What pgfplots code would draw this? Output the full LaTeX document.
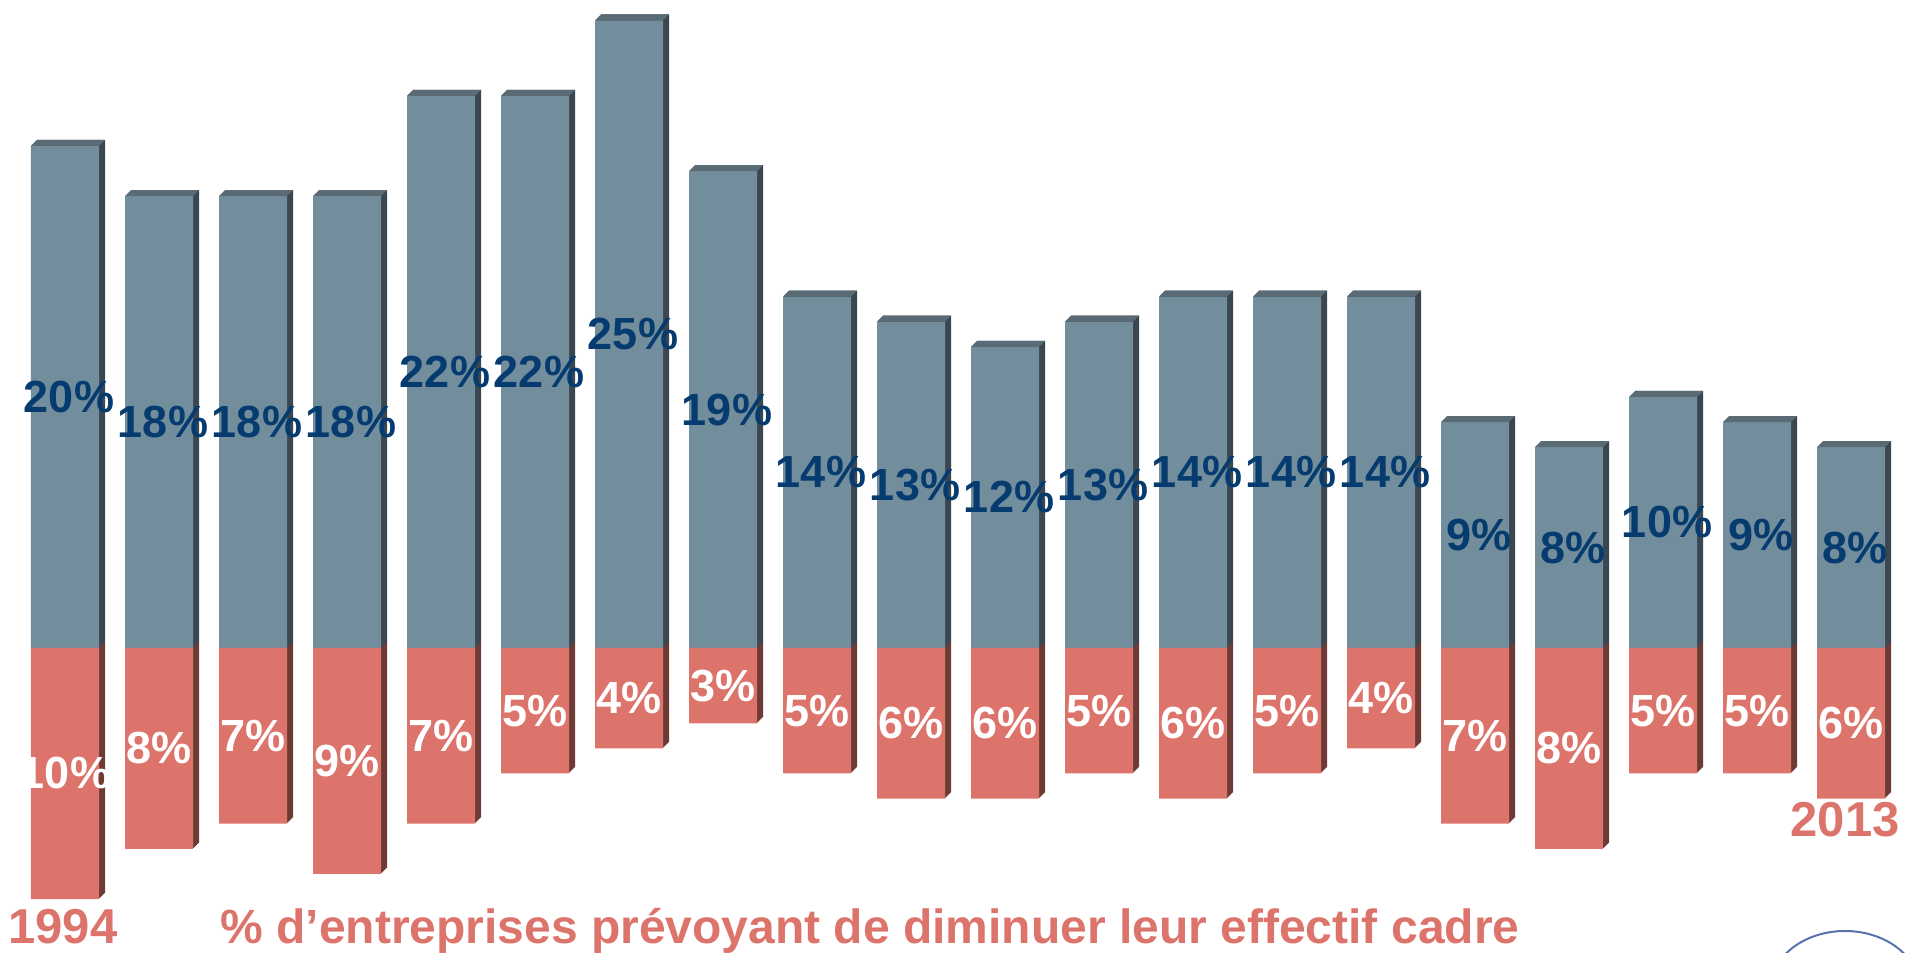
\documentclass[border=0pt]{standalone}
\usepackage{pgfplots}
\usepackage{pgfplotstable}
\pgfplotsset{compat=1.18}
\usepackage{fontspec}
\setmainfont{Liberation Sans}

\definecolor{greyfront}{HTML}{728D9B}
\definecolor{greytop}{HTML}{5B6B76}
\definecolor{greyside}{HTML}{3A4650}
\definecolor{redfront}{HTML}{DC746B}
\definecolor{redside}{HTML}{6E3A36}
\definecolor{labblue}{HTML}{053B6F}
\definecolor{salmon}{HTML}{DC746B}

% top face of a grey bar, drawn at the bar's top centre
\pgfdeclareplotmark{topface}{%
  \pgfpathmoveto{\pgfpoint{-17pt}{0pt}}%
  \pgfpathlineto{\pgfpoint{-14pt}{3pt}}%
  \pgfpathlineto{\pgfpoint{20pt}{3pt}}%
  \pgfpathlineto{\pgfpoint{17pt}{0pt}}%
  \pgfpathclose\pgfusepathqfill}

\pgfplotstableread{
x up down
0 20 10
1 18 8
2 18 7
3 18 9
4 22 7
5 22 5
6 25 4
7 19 3
8 14 5
9 13 6
10 12 6
11 13 5
12 14 6
13 14 5
14 14 4
15 9 7
16 8 8
17 10 5
18 9 5
19 8 6
}\data

\begin{document}
\begin{tikzpicture}
\path[use as bounding box] (0,0) rectangle (957pt,476pt);
\begin{axis}[
    at={(32.5pt,152pt)}, anchor=origin,
    x=47pt, y=12.55pt,
    xmin=-0.5, xmax=19.5, ymin=-11, ymax=26,
    hide axis, clip=false,
    bar/.style={ybar, bar width=34pt, bar shift=0pt, draw=none},
  ]
% side faces: shifted copies
\pgfplotsinvokeforeach{1,2,3,4,5,6}{
  \addplot[bar, fill=redside, xshift=#1*0.5pt, yshift=#1*0.5pt]
    table[x=x, y expr=-\thisrow{down}] {\data};
}
\pgfplotsinvokeforeach{1,2,3,4,5,6}{
  \addplot[bar, fill=greyside, xshift=#1*0.5pt, yshift=#1*0.5pt]
    table[x=x, y=up] {\data};
}
\addplot[only marks, mark=topface, color=greytop] table[x=x, y=up] {\data};
% front faces
\addplot[bar, fill=greyfront] table[x=x, y=up] {\data};
\addplot[bar, fill=redfront] table[x=x, y expr=-\thisrow{down}] {\data};
% labels
\addplot[draw=none, mark=none, point meta=explicit symbolic,
  nodes near coords={\pgfplotspointmeta\%}, nodes near coords align={center},
  nodes near coords style={anchor=center, xshift=2pt, inner sep=0pt,
    text=labblue, font=\fontsize{22.5}{26}\selectfont\bfseries}]
  table[x=x, y expr=\thisrow{up}/2, meta=up] {\data};
\addplot[draw=none, mark=none, point meta=explicit symbolic,
  nodes near coords={\pgfplotspointmeta\%}, nodes near coords align={center},
  nodes near coords style={anchor=center, inner sep=0pt,
    text=white, font=\fontsize{22.5}{26}\selectfont\bfseries}]
  table[x=x, y expr=-\thisrow{down}/2, meta=down] {\data};
\end{axis}
\begin{scope}[every node/.style={inner sep=0pt, text=salmon,
    font=\fontsize{24.5}{28}\selectfont\bfseries}]
\node[anchor=base west] at (4pt,4.5pt) {1994};
\node[anchor=base west, font=\fontsize{24}{28}\selectfont\bfseries] at (110pt,4.5pt) {\% d’entreprises prévoyant de diminuer leur effectif cadre};
\node[anchor=base] at (922.5pt,57.5pt) {2013};
\end{scope}
\draw[color=greyfront!80!blue, line width=1pt] (922.5pt,-18pt) ++(20:37pt and 28.5pt) arc[start angle=20, end angle=160, x radius=37pt, y radius=28.5pt];
\end{tikzpicture}
\end{document}
